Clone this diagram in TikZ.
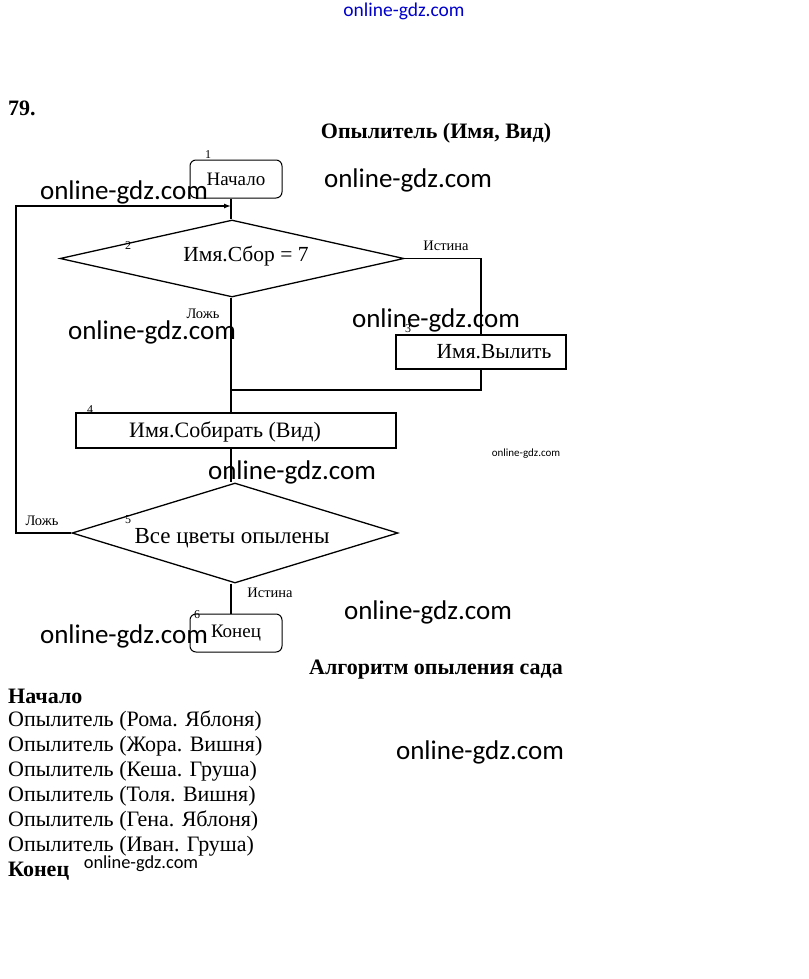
\documentclass[tikz,border=0pt]{standalone}
\usepackage{fontspec}
\setmainfont{Liberation Serif}
\newfontfamily\wmfont{Carlito}
\usetikzlibrary{shapes.geometric,arrows.meta}
\begin{document}
\begin{tikzpicture}[x=1pt,y=-1pt,
  ln/.style={line width=1.3pt},
  procbox/.style={draw,ln,rectangle,inner sep=0pt},
  termbox/.style={draw,line width=1pt,rectangle,rounded corners=6pt,inner sep=0pt,minimum width=92pt,minimum height=38pt},
  decbox/.style={draw,ln,diamond,inner sep=0pt,aspect=4},
  txt/.style={font=\fontsize{21.5}{25}\selectfont,inner sep=0pt},
  termtxt/.style={font=\fontsize{19}{22}\selectfont},
  small/.style={font=\fontsize{14.5}{17}\selectfont,inner sep=0pt},
  num/.style={font=\fontsize{12}{14}\selectfont,inner sep=0pt},
  lst/.style={font=\fontsize{22}{25}\selectfont,inner sep=0pt,anchor=west},
  bold/.style={font=\fontsize{22}{25}\selectfont\bfseries,inner sep=0pt},
  wm/.style={font=\wmfont\fontsize{27}{31}\selectfont,inner sep=0pt},
  wms/.style={font=\wmfont\fontsize{11}{13}\selectfont,inner sep=0pt},
  wmm/.style={font=\wmfont\fontsize{18.4}{21}\selectfont,inner sep=0pt}
]
\useasboundingbox[fill=white] (0,0) rectangle (808,979);

% headings
\node[bold,anchor=west] (num79) at (8,108) {79.};
\node[bold] (title) at (436,133) {Опылитель (Имя, Вид)};

% flowchart
\node[termbox,termtxt] (start) at (236,179) {Начало};
\node[num] (n1) at (208,155) {1};
\node[decbox,minimum width=344pt,minimum height=77pt] (d2) at (232,258.5) {};
\node[txt] (d2t) at (246,256) {Имя.Сбор = 7};
\node[num] (n2) at (128,246) {2};
\node[procbox,minimum width=170pt,minimum height=34pt] (b3) at (481,352) {};
\node[txt] (b3t) at (494,352) {Имя.Вылить};
\node[num] (n3) at (408,329) {3};
\node[procbox,minimum width=320pt,minimum height=35pt] (b4) at (236,430.5) {};
\node[txt,font=\fontsize{22}{25}\selectfont] (b4t) at (225,432) {Имя.Собирать (Вид)};
\node[num] (n4) at (90,410) {4};
\node[decbox,minimum width=326pt,minimum height=100pt] (d5) at (235,533) {};
\node[txt,font=\fontsize{23}{26}\selectfont] (d5t) at (232,538) {Все цветы опылены};
\node[num] (n5) at (128,520) {5};
\node[termbox,termtxt] (end) at (236,633) {Конец};
\node[num] (n6) at (197,615) {6};

\node[small] (lt2) at (446,246) {Истина};
\node[small] (lf2) at (203,314) {Ложь};
\node[small] (lf5) at (42,521) {Ложь};
\node[small] (lt5) at (270,593) {Истина};

\coordinate (loopin) at (231,206);
\coordinate (join) at (231,390);
\coordinate (loopleft) at (16,533);

\draw[ln] (start.south -| loopin) -- (d2.north -| loopin);
\draw[ln,-{Latex[length=7pt,width=5pt]}] (d5.west) -- (d5.west -| loopleft) |- (loopin);
\draw[ln] (d2.east) -| (b3.north);
\draw[ln] (d2.south -| loopin) -- (b4.north -| loopin);
\draw[ln] (b3.south) |- (join);
\draw[ln] (b4.south -| loopin) -- (d5.north -| loopin);
\draw[ln] (d5.south -| loopin) -- (end.north -| loopin);

% program text
\node[bold] (algt) at (436,670) {Алгоритм опыления сада};
\node[bold,anchor=west] (pstart) at (8,696) {Начало};
\node[lst] (p1) at (8,721) {Опылитель (Рома. Яблоня)};
\node[lst] (p2) at (8,746) {Опылитель (Жора. Вишня)};
\node[lst] (p3) at (8,771) {Опылитель (Кеша. Груша)};
\node[lst] (p4) at (8,796) {Опылитель (Толя. Вишня)};
\node[lst] (p5) at (8,821) {Опылитель (Гена. Яблоня)};
\node[lst] (p6) at (8,846) {Опылитель (Иван. Груша)};
\node[bold,anchor=west] (pend) at (8,871) {Конец};

% watermarks
\node[wm,font=\wmfont\fontsize{19.5}{22}\selectfont,text=blue!80!black] (w0) at (404,11) {online-gdz.com};
\node[wm] (w1) at (124,192) {online-gdz.com};
\node[wm] (w2) at (408,180) {online-gdz.com};
\node[wm] (w3) at (152,332) {online-gdz.com};
\node[wm] (w4) at (436,320) {online-gdz.com};
\node[wms] (w5) at (526,454) {online-gdz.com};
\node[wm] (w6) at (292,472) {online-gdz.com};
\node[wm] (w7) at (428,612) {online-gdz.com};
\node[wm] (w8) at (124,636) {online-gdz.com};
\node[wm] (w9) at (480,752) {online-gdz.com};
\node[wmm] (w10) at (141,864) {online-gdz.com};
\end{tikzpicture}
\end{document}
